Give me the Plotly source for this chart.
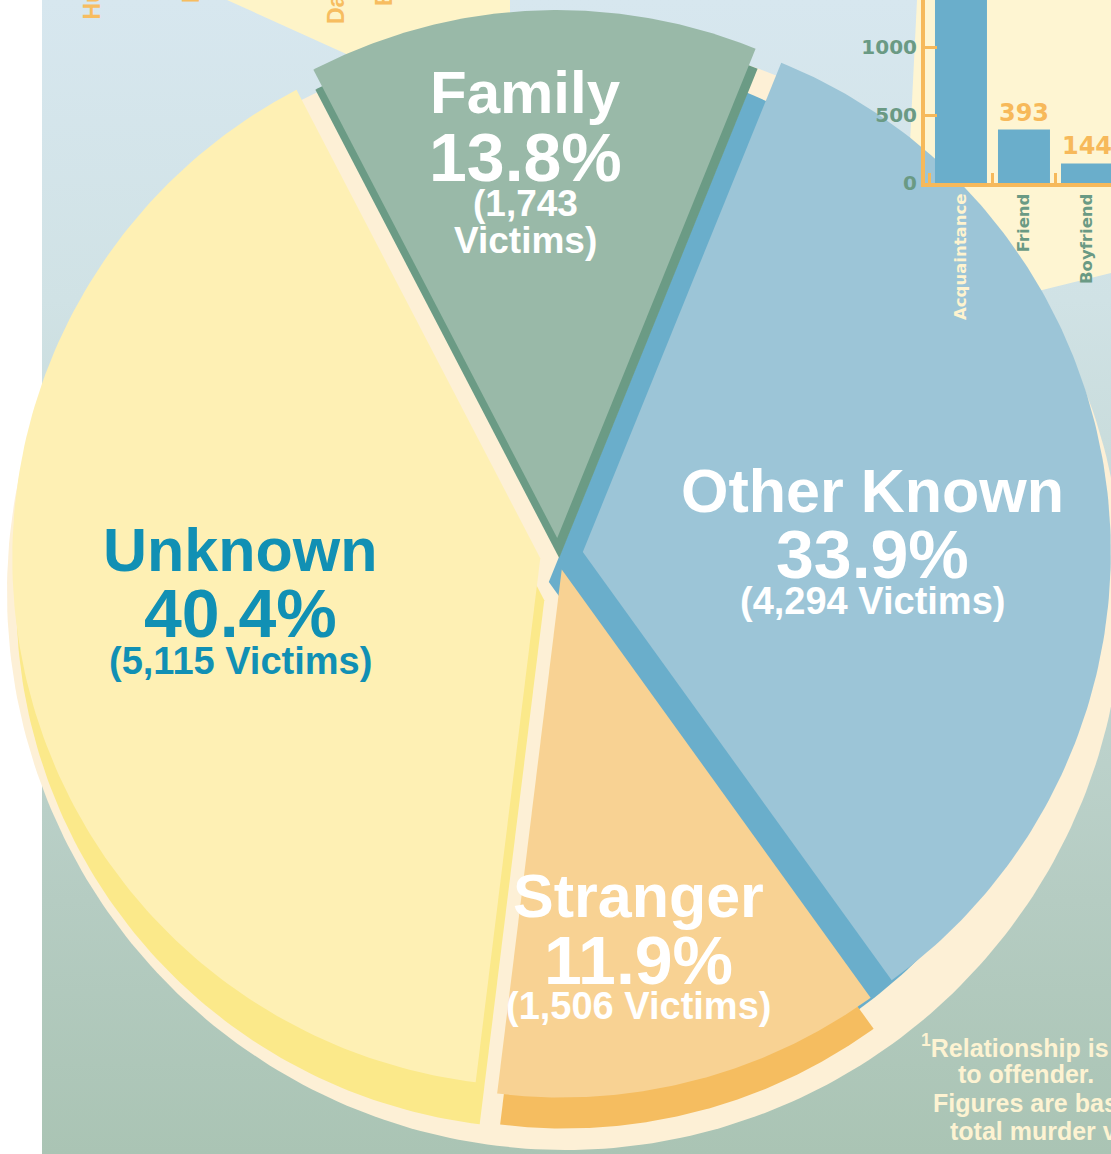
import numpy as np
import plotly.graph_objects as go

W, H = 1111, 1154

# ---------------- data ----------------
relationship = ["Family", "Other Known", "Stranger", "Unknown"]
victims = [1743, 4294, 1506, 5115]
percent = [13.8, 33.9, 11.9, 40.4]

other_known_types = ["Acquaintance", "Friend", "Boyfriend"]
other_known_victims = [2950, 393, 144]

family_types = ["Husband", "Mother", "Daughter", "Brother"]  # cut off at top edge

footnote_lines = ["<sup>1</sup>Relationship is victim", "to offender.",
                  "Figures are based on", "total murder victims"]

# ---------------- styles ----------------
FACE = {"Family": "#99b9a8", "Other Known": "#9cc5d7", "Stranger": "#f8d293", "Unknown": "#fef0b4"}
DEPTH = {"Family": "#6b9b85", "Other Known": "#6aaecb", "Stranger": "#f5bd60", "Unknown": "#fbe98a"}
PULL = {"Family": 17, "Other Known": 25, "Stranger": 15, "Unknown": 18}          # explode, px
SHIFT = {"Family": (2, 20), "Other Known": (-34, 30), "Stranger": (3, 31), "Unknown": (4, 42)}
LABEL_POS = {"Family": (525, [92, 157, 203, 240]), "Other Known": (872, [491, 554, 601]),
             "Stranger": (638, [896, 960, 1006]), "Unknown": (240, [550, 613, 661])}
LABEL_COL = {"Family": "white", "Other Known": "white", "Stranger": "white", "Unknown": "#1190b4"}

CENTER = (558, 555)
RADIUS = 528
START_ANGLE = -27.5

ORANGE = "#f6b95b"
GREEN_TXT = "#6a9a84"
CREAM_TXT = "#fdf3d2"


def wedge(apex, a0, a1, r, n=160):
    t = np.radians(np.linspace(a0, a1, n))
    xs = np.concatenate([[apex[0]], apex[0] + r * np.sin(t), [apex[0]]])
    ys = np.concatenate([[apex[1]], apex[1] - r * np.cos(t), [apex[1]]])
    return xs, ys


def poly(xs, ys, color, name=None, hover=None, **kw):
    return go.Scatter(x=xs, y=ys, mode="lines", fill="toself", fillcolor=color,
                      line=dict(width=0, color=color), name=name or "",
                      hoverinfo="text" if hover else "skip", text=hover,
                      hoveron="fills", showlegend=False, xaxis="x", yaxis="y", **kw)


fig = go.Figure()

# background gradient panel
fig.add_trace(go.Scatter(
    x=[42, W, W, 42, 42], y=[0, 0, H, H, 0], mode="lines", fill="toself",
    line=dict(width=0), hoverinfo="skip", showlegend=False,
    fillgradient=dict(type="vertical", start=0, stop=H,
                      colorscale=[[0, "#d7e7ef"], [0.26, "#d0e2e5"], [0.78, "#b5ccc2"], [1, "#aac4b4"]])))

# pale yellow background wedges (parts of surrounding graphics)
fig.add_trace(poly([227, 510, 510, 227], [0, 0, 128, 0], "#fef4c8"))
fig.add_trace(poly([917, W, W, 901, 917], [0, 0, 273, 325, 0], "#fef5d2"))

# base disc of the pie
tt = np.radians(np.linspace(0, 360, 361))
fig.add_trace(poly(565 + 558 * np.sin(tt), 592 - 558 * np.cos(tt), "#fdf0d6"))

# slice geometry from the data
total = float(sum(victims))
bounds = START_ANGLE + 360.0 * np.cumsum([0] + victims) / total
apex = {}
for i, name in enumerate(relationship):
    a0, a1 = bounds[i], bounds[i + 1]
    mid = np.radians((a0 + a1) / 2)
    apex[name] = (CENTER[0] + PULL[name] * np.sin(mid), CENTER[1] - PULL[name] * np.cos(mid))

# depth (extrusion) layers
for name in ["Other Known", "Family", "Unknown", "Stranger"]:
    i = relationship.index(name)
    ax, ay = apex[name]
    dx, dy = SHIFT[name]
    xs, ys = wedge((ax + dx, ay + dy), bounds[i], bounds[i + 1], RADIUS)
    fig.add_trace(poly(xs, ys, DEPTH[name]))

# top faces
for i, name in enumerate(relationship):
    xs, ys = wedge(apex[name], bounds[i], bounds[i + 1], RADIUS)
    fig.add_trace(poly(xs, ys, FACE[name], name=name,
                       hover=f"{name}: {percent[i]}% ({victims[i]:,} victims)"))

# ---------------- inset bar chart ----------------
fig.add_trace(go.Bar(
    x=other_known_types, y=other_known_victims, xaxis="x2", yaxis="y2",
    marker=dict(color="#6aaecb", line=dict(width=0)),
    text=[f"{v}" for v in other_known_victims], textposition="outside",
    cliponaxis=True,
    textfont=dict(family="DejaVu Sans", size=24, color="#f7b95a", weight="bold"),
    showlegend=False, hovertemplate="%{x}: %{y}<extra></extra>"))

ticktext = ['<span style="color:#fef3cf">Acquaintance</span>', "Friend", "Boyfriend"]

annotations = []
# slice labels
for i, name in enumerate(relationship):
    x, ys = LABEL_POS[name]
    col = LABEL_COL[name]
    if name == "Family":
        lines = [(name, 60), (f"{percent[i]}%", 68), (f"({victims[i]:,}", 37), ("Victims)", 37)]
    else:
        lines = [(name, 61), (f"{percent[i]}%", 68), (f"({victims[i]:,} Victims)", 38)]
    for (txt, sz), y in zip(lines, ys):
        annotations.append(dict(x=x, y=y, xref="x", yref="y", text=txt, showarrow=False,
                                xanchor="center", yanchor="middle",
                                font=dict(family="Liberation Sans", size=sz, color=col, weight="bold")))

# cut-off rotated labels at top-left
for txt, x, y in zip(family_types, [91.5, 190.5, 335.5, 383.5], [22, 5, 26, 8]):
    annotations.append(dict(x=x, y=y, xref="x", yref="y", text=txt, showarrow=False, textangle=-90,
                            xanchor="center", yanchor="bottom",
                            font=dict(family="Liberation Sans", size=23, color="#f7bd60", weight="bold")))

# footnote
for txt, x, y in zip(footnote_lines, [919, 956, 931, 948], [1046, 1074, 1103, 1131]):
    annotations.append(dict(x=x, y=y, xref="x", yref="y", text=txt, showarrow=False,
                            xanchor="left", yanchor="middle",
                            font=dict(family="Liberation Sans", size=25, color=CREAM_TXT, weight="bold")))

fig.update_layout(
    width=W, height=H, autosize=False, margin=dict(l=0, r=0, t=0, b=0, pad=0),
    paper_bgcolor="white", plot_bgcolor="rgba(0,0,0,0)",
    showlegend=False, bargap=0.175,
    xaxis=dict(range=[0, W], domain=[0, 1], visible=False, fixedrange=True, automargin=False),
    yaxis=dict(range=[H, 0], domain=[0, 1], visible=False, fixedrange=True, automargin=False),
    xaxis2=dict(domain=[925 / W, 1], range=[-0.571, 2.381], anchor="y2", automargin=False,
                showline=True, linecolor=ORANGE, linewidth=4, showgrid=False, zeroline=False,
                ticks="inside", tickson="boundaries", ticklen=10, tickwidth=3, tickcolor=ORANGE,
                tickmode="array", tickvals=other_known_types, ticktext=ticktext, tickangle=-90,
                tickfont=dict(family="DejaVu Sans", size=16.5, color=GREEN_TXT, weight="bold"),
                fixedrange=True),
    yaxis2=dict(domain=[1 - 183 / H, 1], range=[0, 1345.6], anchor="x2", automargin=False,
                showline=True, linecolor=ORANGE, linewidth=4, showgrid=False, zeroline=False,
                ticks="inside", ticklen=12, tickwidth=3, tickcolor=ORANGE,
                tickvals=[0, 500, 1000],
                tickfont=dict(family="DejaVu Sans", size=20, color=GREEN_TXT, weight="bold"),
                fixedrange=True),
    annotations=annotations,
)

fig.write_html("out.html", config={"responsive": False, "displayModeBar": False},
               post_script="document.body.style.margin='0';")
